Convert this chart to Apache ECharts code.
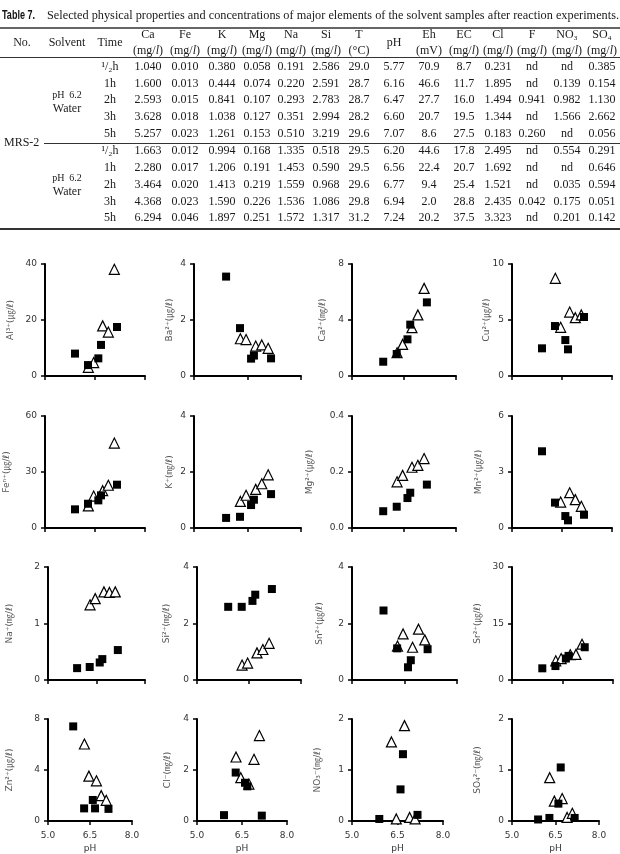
<!DOCTYPE html>
<html><head><meta charset="utf-8">
<script src="https://cdn.jsdelivr.net/npm/echarts@6/dist/echarts.min.js"></script>
<style>html,body{margin:0;padding:0;background:#fff}#c{width:620px;height:854px}</style>
</head><body><div id="c"></div>
<script>
// ---------------- TABLE DATA ----------------
const tableTitleBold = 'Table 7.';
const tableTitle = 'Selected physical properties and concentrations of major elements of the solvent samples after reaction experiments.';
const headerLeft = ['No.', 'Solvent', 'Time'];
const headerNames = ['Ca','Fe','K','Mg','Na','Si','T','pH','Eh','EC','Cl','F','NO₃','SO₄'];
const headerUnits = ['(mg/{i|l})','(mg/{i|l})','(mg/{i|l})','(mg/{i|l})','(mg/{i|l})','(mg/{i|l})','(°C)','','(mV)','(mg/{i|l})','(mg/{i|l})','(mg/{i|l})','(mg/{i|l})','(mg/{i|l})'];
const timeLabels = ['¹/₂h','1h','2h','3h','5h'];
const sampleName = 'MRS-2';
const solventLine1 = 'pH  6.2';
const solventLine2 = 'Water';
const group1Rows = [
 ['1.040','0.010','0.380','0.058','0.191','2.586','29.0','5.77','70.9','8.7','0.231','nd','nd','0.385'],
 ['1.600','0.013','0.444','0.074','0.220','2.591','28.7','6.16','46.6','11.7','1.895','nd','0.139','0.154'],
 ['2.593','0.015','0.841','0.107','0.293','2.783','28.7','6.47','27.7','16.0','1.494','0.941','0.982','1.130'],
 ['3.628','0.018','1.038','0.127','0.351','2.994','28.2','6.60','20.7','19.5','1.344','nd','1.566','2.662'],
 ['5.257','0.023','1.261','0.153','0.510','3.219','29.6','7.07','8.6','27.5','0.183','0.260','nd','0.056']
];
const group2Rows = [
 ['1.663','0.012','0.994','0.168','1.335','0.518','29.5','6.20','44.6','17.8','2.495','nd','0.554','0.291'],
 ['2.280','0.017','1.206','0.191','1.453','0.590','29.5','6.56','22.4','20.7','1.692','nd','nd','0.646'],
 ['3.464','0.020','1.413','0.219','1.559','0.968','29.6','6.77','9.4','25.4','1.521','nd','0.035','0.594'],
 ['4.368','0.023','1.590','0.226','1.536','1.086','29.8','6.94','2.0','28.8','2.435','0.042','0.175','0.051'],
 ['6.294','0.046','1.897','0.251','1.572','1.317','31.2','7.24','20.2','37.5','3.323','nd','0.201','0.142']
];

// ---------------- SCATTER DATA ----------------
const sqPH  = [5.90, 6.29, 6.60, 6.68, 7.16];   // filled squares
const triPH = [6.30, 6.46, 6.73, 6.90, 7.08];   // open triangles

const alSq = [8.0, 3.9, 6.3, 11.1, 17.5];        const alTri = [3.1, 4.8, 17.9, 15.7, 38.1];
const baSq = [3.55, 1.71, 0.62, 0.73, 0.63];     const baTri = [1.33, 1.30, 1.07, 1.11, 0.99];
const caSq = [1.02, 1.57, 2.62, 3.67, 5.26];     const caTri = [1.66, 2.26, 3.45, 4.36, 6.26];
const cuSq = [2.47, 4.46, 3.21, 2.38, 5.27];     const cuTri = [8.72, 4.35, 5.71, 5.21, 5.45];
const feSq = [10.0, 13.0, 14.8, 17.5, 23.2];     const feTri = [11.8, 17.1, 20.0, 22.9, 45.5];
const kSq  = [0.36, 0.40, 0.82, 1.01, 1.21];     const kTri  = [0.95, 1.17, 1.38, 1.58, 1.90];
const mgSq = [0.060, 0.076, 0.107, 0.126, 0.155]; const mgTri = [0.165, 0.188, 0.217, 0.224, 0.248];
const mnSq = [4.11, 1.36, 0.64, 0.41, 0.71];     const mnTri = [null, 1.39, 1.89, 1.52, 1.16];
const naSq = [0.21, 0.23, 0.31, 0.37, 0.53];     const naTri = [1.33, 1.44, 1.56, 1.55, 1.56];
const siSq = [2.59, 2.59, 2.80, 3.02, 3.22];     const siTri = [0.53, 0.60, 0.96, 1.08, 1.30];
const snSq = [2.46, 1.12, 0.45, 0.70, 1.09];     const snTri = [1.20, 1.63, 1.16, 1.80, 1.42];
const srSq = [3.1, 3.7, 5.7, 6.4, 8.7];          const srTri = [5.1, 5.7, 6.7, 6.8, 9.5];
const znSq = [7.42, 0.99, 1.65, 0.99, 0.95];     const znTri = [6.04, 3.52, 3.15, 1.99, 1.62];
const clSq = [0.23, 1.90, 1.50, 1.36, 0.21];     const clTri = [2.51, 1.70, 1.45, 2.42, 3.35];
const no3Sq = [0.04, null, 0.62, 1.31, 0.12];    const no3Tri = [1.55, 0.04, 1.87, 0.07, 0.04];
const so4Sq = [0.03, 0.06, 0.34, 1.05, 0.06];    const so4Tri = [0.85, 0.39, 0.44, 0.07, 0.15];

const plotNames = ['Al³⁺(㎍/ℓ)','Ba²⁺(㎍/ℓ)','Ca²⁺(㎎/ℓ)','Cu²⁺(㎍/ℓ)',
                   'Feⁿ⁺(㎍/ℓ)','K⁺(㎎/ℓ)','Mg²⁺(㎍/ℓ)','Mn²⁺(㎍/ℓ)',
                   'Na⁺(㎎/ℓ)','Si²⁺(㎎/ℓ)','Sn²⁺(㎍/ℓ)','Sr²⁺(㎍/ℓ)',
                   'Zn²⁺(㎍/ℓ)','Cl⁻(㎎/ℓ)','NO₃⁻(㎎/ℓ)','SO₄²⁻(㎎/ℓ)'];
const plotMax = [40, 4, 8, 10, 60, 4, 0.4, 6, 2, 4, 4, 30, 8, 4, 2, 2];
const plotSq  = [alSq, baSq, caSq, cuSq, feSq, kSq, mgSq, mnSq, naSq, siSq, snSq, srSq, znSq, clSq, no3Sq, so4Sq];
const plotTri = [alTri, baTri, caTri, cuTri, feTri, kTri, mgTri, mnTri, naTri, siTri, snTri, srTri, znTri, clTri, no3Tri, so4Tri];
const xTicks = [5.0, 6.5, 8.0];

// ---------------- LAYOUT (pixels) ----------------
const gridBoxes = [
 [45,145,264,376],[194,301,264,376],[352,456,264,376],[512,612,264,376],
 [45,145,416,528],[194,301,416,528],[352,456,416,528],[512,612,416,528],
 [48,145,567,680],[197,301,567,680],[352,457,567,680],[512,613,567,680],
 [48,132,719,829],[197,287,719,829],[352,443,719,827],[512,599,719,827]
];
const nameGaps = [30,19.5,24.5,20.5, 33.5,19.5,37.5,28.5, 33.5,25.5,27.5,29.5, 33.5,24.5,29.5,29.5];
const colX = [148,185,222,257,291,326,359,394,429,464,498,532,567,602];
const leftX = [22, 67, 110];
const g1Y = [67, 83.5, 100, 117, 133.5];
const g2Y = [151, 168, 185, 202, 218];

// ---------------- BUILD TABLE GRAPHICS ----------------
const SERIF = '"Liberation Serif", "Times New Roman", serif';
const TCOL = '#1a1a1a';
function measure(text, font){
  const c = document.createElement('canvas').getContext('2d');
  c.font = font; return c.measureText(text).width;
}
function txt(x, y, s, size, extra){
  const st = Object.assign({text: s, fill: TCOL, fontSize: size, fontFamily: SERIF,
    align: 'center', verticalAlign: 'middle', textAlign: 'center', textVerticalAlign: 'middle',
    rich: {i: {fontStyle: 'italic', fontSize: size, fontFamily: SERIF, fill: TCOL}}}, extra || {});
  return {type: 'text', x: x, y: y, silent: true, style: st};
}
function line(x1, y1, x2, y2, w){
  return {type: 'line', silent: true, shape: {x1, y1, x2, y2}, style: {stroke: '#333', lineWidth: w}};
}
const graphics = [];
const boldFont = 'bold 12px "Liberation Sans", Arial, sans-serif';
const serifFont = '12px "Liberation Serif", serif';
const sb = 33 / measure(tableTitleBold, boldFont);
const ss = 572 / measure(tableTitle, serifFont);
graphics.push({type: 'group', x: 2, y: 15.5, scaleX: sb, children: [
  {type: 'text', silent: true, style: {text: tableTitleBold, fill: '#111', fontSize: 12, fontWeight: 'bold',
    fontFamily: '"Liberation Sans", Arial, sans-serif', align: 'left', verticalAlign: 'middle', textAlign: 'left', textVerticalAlign: 'middle'}}]});
graphics.push({type: 'group', x: 47, y: 15.5, scaleX: ss, children: [
  {type: 'text', silent: true, style: {text: tableTitle, fill: TCOL, fontSize: 12,
    fontFamily: SERIF, align: 'left', verticalAlign: 'middle', textAlign: 'left', textVerticalAlign: 'middle'}}]});
graphics.push(line(0, 28, 620, 28, 1.3));
graphics.push(line(0, 57.5, 620, 57.5, 1));
graphics.push(line(44, 143.5, 620, 143.5, 1.2));
graphics.push(line(0, 229, 620, 229, 2));
headerLeft.forEach((h, i) => graphics.push(txt(leftX[i], 43, h, 12)));
headerNames.forEach((h, i) => {
  if (headerUnits[i] === '') { graphics.push(txt(colX[i], 43, h, 12)); }
  else {
    graphics.push(txt(colX[i], 35, h, 12));
    graphics.push(txt(colX[i], 51, headerUnits[i], 12));
  }
});
[[group1Rows, g1Y], [group2Rows, g2Y]].forEach(([rows, ys]) => {
  rows.forEach((r, ri) => {
    graphics.push(txt(leftX[2], ys[ri], timeLabels[ri], 12));
    r.forEach((v, ci) => graphics.push(txt(colX[ci], ys[ri], v, 12)));
  });
});
graphics.push(txt(67, 95, solventLine1, 10));
graphics.push(txt(67, 108.5, solventLine2, 12));
graphics.push(txt(67, 178, solventLine1, 10));
graphics.push(txt(67, 192, solventLine2, 12));
graphics.push(txt(4, 143, sampleName, 12, {align: 'left', textAlign: 'left'}));

// ---------------- BUILD CHARTS ----------------
const grids = [], xAxes = [], yAxes = [], series = [];
plotNames.forEach((nm, i) => {
  const [l, r, t, b] = gridBoxes[i];
  const bottomRow = i >= 12;
  grids.push({left: l, top: t, width: r - l, height: b - t, containLabel: false});
  xAxes.push({
    type: 'value', gridIndex: i, min: xTicks[0], max: xTicks[2], interval: xTicks[1] - xTicks[0],
    axisLine: {show: true, onZero: false, lineStyle: {color: '#000', width: 2}},
    axisTick: {show: true, length: 4, lineStyle: {color: '#000', width: 1.5}},
    splitLine: {show: false},
    axisLabel: {show: bottomRow, fontSize: 9, color: '#333', margin: 10,
      fontFamily: '"DejaVu Sans", sans-serif', formatter: v => v.toFixed(1)},
    name: bottomRow ? 'pH' : '', nameLocation: 'middle', nameGap: 23, nameMoveOverlap: false,
    nameTextStyle: {fontSize: 9, color: '#333', fontFamily: '"DejaVu Sans", sans-serif', verticalAlign: 'top'}
  });
  const mx = plotMax[i];
  yAxes.push({
    type: 'value', gridIndex: i, min: 0, max: mx, interval: mx / 2,
    axisLine: {show: true, lineStyle: {color: '#000', width: 2}},
    axisTick: {show: true, length: 4, lineStyle: {color: '#000', width: 1.5}},
    splitLine: {show: false},
    axisLabel: {fontSize: 9, color: '#333', margin: 8, fontFamily: '"DejaVu Sans", sans-serif',
      formatter: v => (mx < 1 ? v.toFixed(1) : String(v))},
    name: nm, nameLocation: 'middle', nameGap: nameGaps[i], nameMoveOverlap: false,
    nameTextStyle: {fontSize: 9, color: '#555', fontFamily: '"DejaVu Sans", "Noto Sans CJK KR", sans-serif'}
  });
  const triData = [], sqData = [];
  plotTri[i].forEach((v, k) => { if (v !== null) triData.push([triPH[k], v]); });
  plotSq[i].forEach((v, k) => { if (v !== null) sqData.push([sqPH[k], v]); });
  series.push({type: 'scatter', xAxisIndex: i, yAxisIndex: i, symbol: 'triangle', symbolSize: 10,
    data: triData, z: 2, itemStyle: {color: '#fff', borderColor: '#000', borderWidth: 1.2, opacity: 1}});
  series.push({type: 'scatter', xAxisIndex: i, yAxisIndex: i, symbol: 'rect', symbolSize: 8,
    data: sqData, z: 3, itemStyle: {color: '#000', opacity: 1}});
});

const chart = echarts.init(document.getElementById('c'), null, {renderer: 'canvas'});
chart.setOption({
  animation: false,
  backgroundColor: '#fff',
  grid: grids, xAxis: xAxes, yAxis: yAxes, series: series,
  graphic: {elements: graphics}
});
</script>
</body></html>
